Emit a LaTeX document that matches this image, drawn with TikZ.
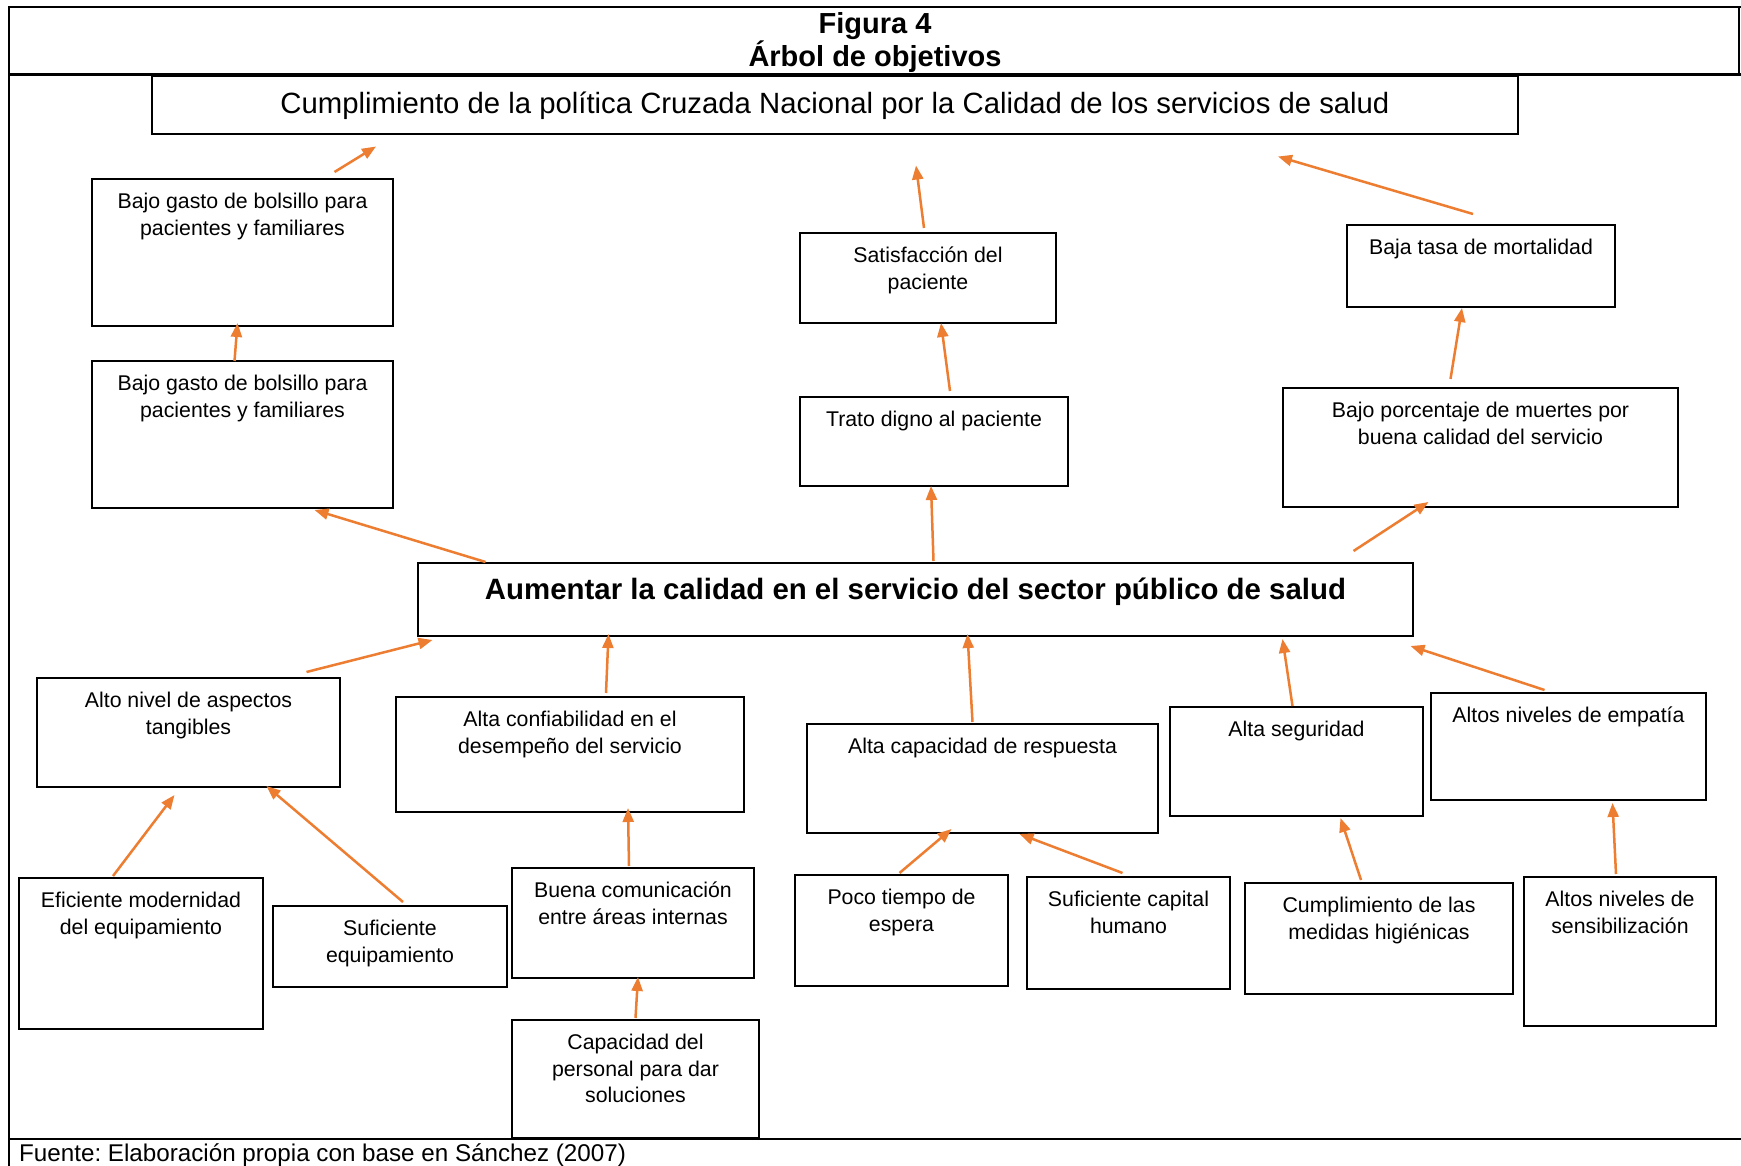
\documentclass[tikz,border=0pt]{standalone}
\usepackage{fontspec}
\setmainfont{Liberation Sans}
\usetikzlibrary{positioning, calc, arrows.meta}
\definecolor{naranja}{RGB}{237,125,49}
\frenchspacing

\begin{document}
\begin{tikzpicture}[
  x=1pt, y=-1pt,
  >={Triangle[length=14pt, width=11pt]},
  caja/.style   = {draw, line width=2pt, rectangle, anchor=north west, inner sep=0pt},
  texto/.style  = {anchor=north, align=center, inner sep=0pt, yshift=-15pt,
                   font=\fontsize{21.3}{26.6}\selectfont},
  flecha/.style = {->, naranja, line width=2.5pt},
]
  \useasboundingbox (0,0) rectangle (1741,1166);

  % marco y titulo
  \draw[line width=2pt] (9,1166) -- (9,7) -- (1741,7);
  \draw[line width=2pt] (1739,7) -- (1739,75);
  \draw[line width=3pt] (9,75) -- (1741,75);
  \draw[line width=2pt] (9,1139) -- (1741,1139);
  \node[anchor=north, align=center, inner sep=0pt,
        font=\fontsize{29}{31}\selectfont\bfseries] (titulo) at (875,12)
        {Figura 4\\Árbol de objetivos};
  \node[anchor=base west, inner sep=0pt, font=\fontsize{24.2}{28}\selectfont] (fuente) at (19,1161)
        {Fuente: Elaboración propia con base en Sánchez (2007)};

  % fines
  \node[caja, minimum width=1366, minimum height=58, font=\fontsize{29.3}{33}\selectfont] (meta) at (151,75.5)
        {Cumplimiento de la política Cruzada Nacional por la Calidad de los servicios de salud};
  \node[caja, minimum width=301, minimum height=147,
        label={[texto]90:{Bajo gasto de bolsillo para\\pacientes y familiares}}] (gastoA) at (91,178) {};
  \node[caja, minimum width=301, minimum height=147,
        label={[texto]90:{Bajo gasto de bolsillo para\\pacientes y familiares}}] (gastoB) at (91,360) {};
  \node[caja, minimum width=256, minimum height=90,
        label={[texto]90:{Satisfacción del\\paciente}}] (satisf) at (799,232) {};
  \node[caja, minimum width=268, minimum height=89,
        label={[texto]90:{Trato digno al paciente}}] (trato) at (799,396) {};
  \node[caja, minimum width=268, minimum height=82,
        label={[texto]90:{Baja tasa de mortalidad}}] (tasa) at (1346,224) {};
  \node[caja, minimum width=395, minimum height=119,
        label={[texto]90:{Bajo porcentaje de muertes por\\buena calidad del servicio}}] (muertes) at (1282,387) {};

  % objetivo central
  \node[caja, minimum width=995, minimum height=73,
        label={[texto, yshift=-1pt, font=\fontsize{29.4}{33}\selectfont\bfseries]90:{Aumentar la calidad en el servicio del sector público de salud}}]
        (central) at (417,562) {};

  % medios
  \node[caja, minimum width=303, minimum height=109,
        label={[texto]90:{Alto nivel de aspectos\\tangibles}}] (tangib) at (36,677) {};
  \node[caja, minimum width=348, minimum height=115,
        label={[texto]90:{Alta confiabilidad en el\\desempeño del servicio}}] (confiab) at (395,696) {};
  \node[caja, minimum width=351, minimum height=109,
        label={[texto]90:{Alta capacidad de respuesta}}] (respuesta) at (806,723) {};
  \node[caja, minimum width=253, minimum height=109,
        label={[texto]90:{Alta seguridad}}] (seguridad) at (1169,706) {};
  \node[caja, minimum width=275, minimum height=107,
        label={[texto]90:{Altos niveles de empatía}}] (empatia) at (1430,692) {};

  \node[caja, minimum width=244, minimum height=151,
        label={[texto]90:{Eficiente modernidad\\del equipamiento}}] (moderno) at (18,877) {};
  \node[caja, minimum width=234, minimum height=81,
        label={[texto]90:{Suficiente\\equipamiento}}] (equipo) at (272,905) {};
  \node[caja, minimum width=242, minimum height=110,
        label={[texto]90:{Buena comunicación\\entre áreas internas}}] (comunic) at (511,867) {};
  \node[caja, minimum width=247, minimum height=118,
        label={[texto]90:{Capacidad del\\personal para dar\\soluciones}}] (capacidad) at (511,1019) {};
  \node[caja, minimum width=213, minimum height=111,
        label={[texto]90:{Poco tiempo de\\espera}}] (espera) at (794,874) {};
  \node[caja, minimum width=203, minimum height=112,
        label={[texto]90:{Suficiente capital\\humano}}] (capital) at (1026,876) {};
  \node[caja, minimum width=268, minimum height=111,
        label={[texto]90:{Cumplimiento de las\\medidas higiénicas}}] (higiene) at (1244,882) {};
  \node[caja, minimum width=192, minimum height=149,
        label={[texto]90:{Altos niveles de\\sensibilización}}] (sensib) at (1523,876) {};

  % flechas
  \draw[flecha] ($(gastoA.north)+(92,-6)$)     -- ($(meta.south)+(-459,11)$);
  \draw[flecha] ($(satisf.north)+(-4,-4)$)     -- ($(meta.south)+(81,30)$);
  \draw[flecha] ($(tasa.north)+(-8,-10)$)      -- ($(meta.south)+(443,21)$);
  \draw[flecha] ($(gastoB.north)+(-8,1)$)      -- ($(gastoA.south)+(-5,-4)$);
  \draw[flecha] ($(trato.north)+(16,-5)$)      -- ($(satisf.south)+(13,-1)$);
  \draw[flecha] ($(muertes.north)+(-30,-8)$)   -- ($(tasa.south)+(-19,0)$);
  \draw[flecha] ($(central.north)+(-430,0)$)   -- ($(gastoB.south)+(72,1)$);
  \draw[flecha] ($(central.north)+(18,-1)$)    -- ($(trato.south)+(-3,-1)$);
  \draw[flecha] ($(central.north)+(438,-11)$)  -- ($(muertes.south)+(-52,-6)$);

  \draw[flecha] ($(tangib.north)+(118,-5)$)    -- ($(central.south)+(-483,3)$);
  \draw[flecha] ($(confiab.north)+(36,-3)$)    -- ($(central.south)+(-307,-3)$);
  \draw[flecha] ($(respuesta.north)+(-10,-1)$) -- ($(central.south)+(52,-3)$);
  \draw[flecha] ($(seguridad.north)+(-4,0)$)   -- ($(central.south)+(367,2)$);
  \draw[flecha] ($(empatia.north)+(-24,-2)$)   -- ($(central.south)+(495,9)$);

  \draw[flecha] ($(moderno.north)+(-28,-1)$)   -- ($(tangib.south)+(-14,7)$);
  \draw[flecha] ($(equipo.north)+(13,-3)$)     -- ($(tangib.south)+(78,-2)$);
  \draw[flecha] ($(comunic.north)+(-4,-1)$)    -- ($(confiab.south)+(58,-5)$);
  \draw[flecha] ($(capacidad.north)+(0,-1)$)   -- ($(comunic.south)+(5,-2)$);
  \draw[flecha] ($(espera.north)+(-2,-1)$)     -- ($(respuesta.south)+(-31,-5)$);
  \draw[flecha] ($(capital.north)+(-6,-3)$)    -- ($(respuesta.south)+(37,0)$);
  \draw[flecha] ($(higiene.north)+(-18,-2)$)   -- ($(seguridad.south)+(44,1)$);
  \draw[flecha] ($(sensib.north)+(-4,-2)$)     -- ($(empatia.south)+(44,2)$);
\end{tikzpicture}
\end{document}
